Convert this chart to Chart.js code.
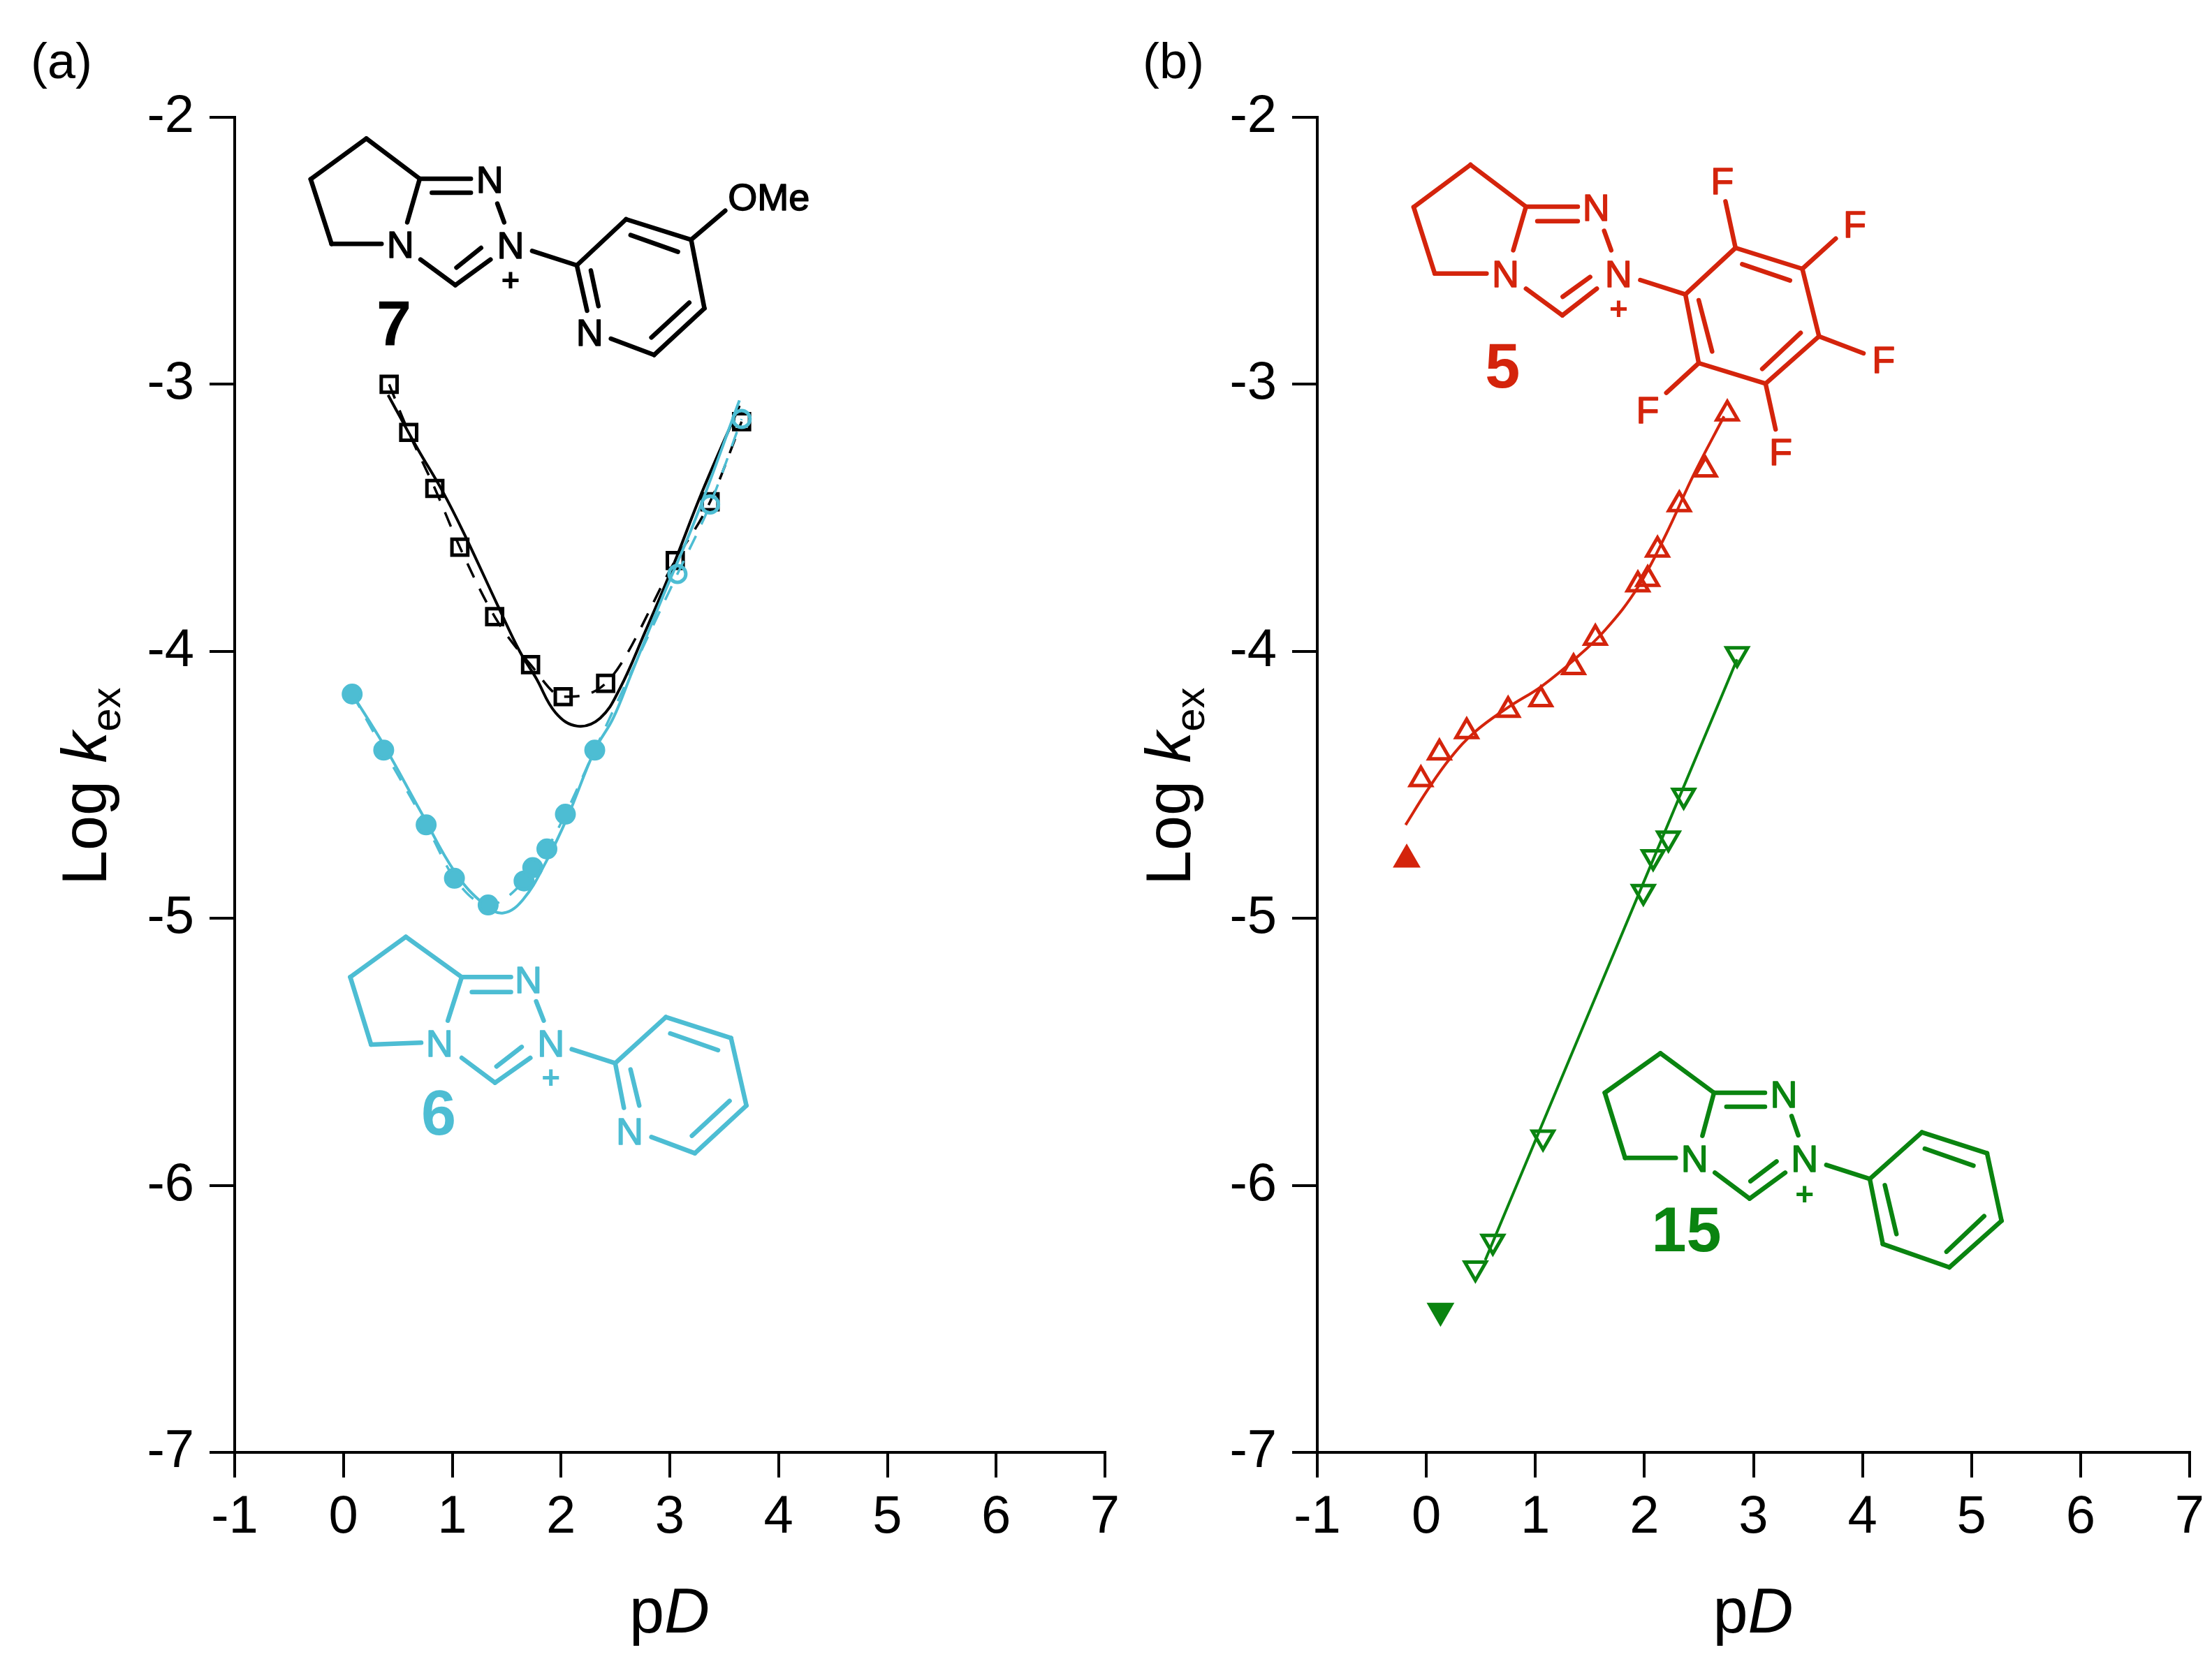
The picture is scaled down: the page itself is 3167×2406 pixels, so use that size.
<!DOCTYPE html>
<html>
<head>
<meta charset="utf-8">
<title>Log kex versus pD</title>
<script src="https://cdn.jsdelivr.net/npm/chart.js@4"></script>
<style>
  html, body { margin: 0; padding: 0; background: #fff; overflow: hidden; }
  canvas { position: absolute; top: 0; }
  #panelA { left: 0; }
  #panelB { left: 1620px; }
</style>
</head>
<body>
<canvas id="panelA"></canvas>
<canvas id="panelB"></canvas>
<script>
// tick labels
var xTickValues = [-1, 0, 1, 2, 3, 4, 5, 6, 7];
var yTickValues = [-2, -3, -4, -5, -6, -7];

// compound 7 (open squares, solid fit)
var pD7 = [0.42, 0.60, 0.84, 1.07, 1.39, 1.72, 2.02, 2.41, 3.05, 3.37, 3.66];
var logK7 = [-3.00, -3.18, -3.39, -3.61, -3.87, -4.05, -4.17, -4.12, -3.66, -3.44, -3.14];
var fitPD7 = [0.41, 0.68, 0.91, 1.11, 1.42, 1.62, 1.77, 1.95, 2.15, 2.36, 2.54, 2.77, 3.01, 3.30, 3.64];
var fitLogK7 = [-3.04, -3.24, -3.40, -3.56, -3.83, -4.00, -4.10, -4.23, -4.28, -4.25, -4.14, -3.93, -3.70, -3.40, -3.08];

// compound 6 (filled circles, then open circles at high pD)
var pD6 = [0.08, 0.37, 0.76, 1.02, 1.33, 1.66, 1.74, 1.87, 2.04, 2.31];
var logK6 = [-4.16, -4.37, -4.65, -4.85, -4.95, -4.86, -4.81, -4.74, -4.61, -4.37];
var pD6Open = [3.07, 3.37, 3.66];
var logK6Open = [-3.71, -3.45, -3.13];
var fitPD6 = [0.08, 0.37, 0.71, 1.03, 1.30, 1.47, 1.65, 1.86, 2.06, 2.31, 2.48, 2.65, 2.92, 3.24, 3.64];
var fitLogK6 = [-4.16, -4.35, -4.60, -4.83, -4.95, -4.98, -4.93, -4.79, -4.62, -4.37, -4.25, -4.08, -3.81, -3.50, -3.06];

// compound 5 (open triangles, one filled)
var pD5 = [-0.05, 0.12, 0.37, 0.75, 1.05, 1.35, 1.55, 1.94, 2.03, 2.12, 2.32, 2.56, 2.76];
var logK5 = [-4.48, -4.38, -4.30, -4.22, -4.18, -4.06, -3.95, -3.75, -3.73, -3.62, -3.45, -3.32, -3.11];
var pD5Filled = [-0.18];
var logK5Filled = [-4.78];
var fitPD5 = [-0.19, 0.01, 0.22, 0.45, 0.75, 1.06, 1.36, 1.64, 1.94, 2.20, 2.45, 2.73];
var fitLogK5 = [-4.65, -4.52, -4.40, -4.30, -4.21, -4.13, -4.03, -3.92, -3.76, -3.56, -3.34, -3.12];

// compound 15 (open inverted triangles, one filled)
var pD15 = [0.45, 0.61, 1.07, 1.99, 2.08, 2.22, 2.36, 2.85];
var logK15 = [-6.31, -6.21, -5.82, -4.90, -4.77, -4.70, -4.54, -4.01];
var pD15Filled = [0.13];
var logK15Filled = [-6.47];
var fitPD15 = [0.54, 2.85];
var fitLogK15 = [-6.28, -4.03];

var BLACK = '#000000';
var CYAN = '#4dbdd3';
var RED = '#d4240c';
var GREEN = '#0a8410';
var FONT = '"Liberation Sans", Arial, sans-serif';

function points(xs, ys) {
  return xs.map(function (x, i) { return { x: x, y: ys[i] }; });
}

function fitLine(xs, ys, color) {
  return {
    data: points(xs, ys), showLine: true, borderColor: color, borderWidth: 4,
    pointRadius: 0, tension: 0.4, fill: false
  };
}

function dashedLine(xs, ys, color) {
  return {
    data: points(xs, ys), showLine: true, borderColor: color, borderWidth: 3.5,
    borderDash: [22, 18], pointRadius: 0, cubicInterpolationMode: 'monotone', fill: false
  };
}

function markers(xs, ys, color, style, radius, filled, rotation) {
  return {
    data: points(xs, ys), showLine: false, pointStyle: style, pointRadius: radius,
    pointBorderColor: color, pointBorderWidth: 5, pointRotation: rotation || 0,
    pointBackgroundColor: filled ? color : 'transparent'
  };
}

// bicyclic cation drawings: crop units, origin and stretch turn them into page pixels
var structures = [
  {
    ox: 350, oy: 150, sx: 1 / 1.845, sy: 1 / 3, color: BLACK, panel: 0, label: '7', labelAt: [395, 935],
    bonds: [[322,145,175,320],[175,320,230,598],[230,598,362,598],[322,145,463,318],[463,318,598,318],[495,378,598,378],
      [463,318,430,505],[668,425,686,505],[465,665,557,775],[557,775,650,665],[560,700,625,615],[760,628,878,690],
      [878,690,1008,492],[1008,492,1180,580],[1020,560,1145,632],[1180,580,1215,875],[1215,875,1082,1075],[1175,850,1075,1000],
      [1082,1075,968,1005],[878,690,905,885],[915,712,935,865],[1180,580,1270,455]],
    atoms: [['N',648,322],['N',412,600],['N',703,603],['N',912,978],['OMe',1385,395]],
    plus: [703,752]
  },
  {
    ox: 460, oy: 1310, sx: 1 / 2.412, sy: 1 / 3, color: CYAN, panel: 0, label: '6', labelAt: [405, 850],
    bonds: [[292,95,100,268],[100,268,172,558],[172,558,345,550],[292,95,485,268],[485,268,655,268],[520,332,655,332],
      [485,268,437,455],[742,372,768,455],[485,615,600,722],[600,722,722,615],[605,652,692,568],[865,578,1015,638],
      [1015,638,1190,440],[1190,440,1415,530],[1205,510,1370,582],[1415,530,1468,820],[1468,820,1290,1025],[1410,800,1280,950],
      [1290,1025,1140,955],[1015,638,1045,830],[1068,665,1098,820]],
    atoms: [['N',715,278],['N',408,552],['N',793,552],['N',1065,930]],
    plus: [793,700]
  },
  {
    ox: 1980, oy: 200, sx: 1 / 2.09, sy: 1 / 3, color: RED, panel: 1, label: '5', labelAt: [358, 970],
    bonds: [[262,108,92,290],[92,290,155,575],[155,575,310,575],[262,108,428,288],[428,288,583,288],[462,350,583,350],
      [428,288,390,475],[662,392,683,475],[428,640,537,755],[537,755,640,640],[538,675,620,590],[770,603,905,665],
      [905,665,1055,465],[1055,465,1255,555],[1075,535,1218,605],[1255,555,1305,845],[1305,845,1145,1048],[1250,830,1135,985],
      [1145,1048,945,960],[945,960,905,665],[945,690,985,910],
      [1055,465,1025,265],[1255,555,1355,425],[1305,845,1438,918],[1145,1048,1175,1245],[945,960,848,1088]],
    atoms: [['N',638,290],['N',367,575],['N',705,575],['F',1015,178],['F',1412,362],['F',1498,945],['F',1190,1342],['F',792,1160]],
    plus: [705,727]
  },
  {
    ox: 2250, oy: 1470, sx: 1 / 2.412, sy: 1 / 3, color: GREEN, panel: 1, label: '15', labelAt: [397, 870],
    bonds: [[307,115,115,285],[115,285,185,565],[185,565,360,565],[307,115,492,285],[492,285,668,285],[535,345,668,345],
      [492,285,452,470],[760,385,783,468],[495,628,615,740],[615,740,738,628],[618,665,708,580],[880,595,1030,655],
      [1030,655,1210,455],[1210,455,1435,545],[1220,525,1388,598],[1435,545,1485,835],[1485,835,1305,1035],[1425,815,1295,968],
      [1305,1035,1075,935],[1075,935,1030,655],[1082,682,1122,892]],
    atoms: [['N',733,290],['N',425,568],['N',805,567]],
    plus: [805,720]
  }
];

function drawStructure(ctx, s) {
  function px(x) { return s.ox + x * s.sx; }
  function py(y) { return s.oy + y * s.sy; }
  ctx.strokeStyle = s.color;
  ctx.fillStyle = s.color;
  ctx.lineWidth = 6.5;
  ctx.lineCap = 'round';
  ctx.lineJoin = 'round';
  s.bonds.forEach(function (b) {
    ctx.beginPath();
    ctx.moveTo(px(b[0]), py(b[1]));
    ctx.lineTo(px(b[2]), py(b[3]));
    ctx.stroke();
  });
  ctx.textAlign = 'center';
  ctx.textBaseline = 'alphabetic';
  ctx.font = '54px ' + FONT;
  ctx.lineWidth = 1.5;
  s.atoms.forEach(function (a) {
    ctx.fillText(a[0], px(a[1]), py(a[2]) + 19);
    ctx.strokeText(a[0], px(a[1]), py(a[2]) + 19);
  });
  ctx.font = 'bold 46px ' + FONT;
  ctx.fillText('+', px(s.plus[0]), py(s.plus[1]) + 16);
  ctx.font = 'bold 90px ' + FONT;
  ctx.fillText(s.label, px(s.labelAt[0]), py(s.labelAt[1]) + 32);
}

// mixed italic text, left to right from (x, y)
function drawRuns(ctx, runs, x, y) {
  ctx.textAlign = 'left';
  ctx.textBaseline = 'alphabetic';
  runs.forEach(function (r) {
    ctx.font = r.font;
    ctx.fillText(r.text, x, y + (r.dy || 0));
    x += ctx.measureText(r.text).width;
  });
}

function panelText(panelIndex, offsetLeft, letter, letterX, yTitleBaseline) {
  return {
    id: 'panelText' + panelIndex,
    afterDraw: function (chart) {
      var ctx = chart.ctx;
      var area = chart.chartArea;
      ctx.save();
      ctx.fillStyle = BLACK;
      // panel letter
      ctx.font = '72px ' + FONT;
      ctx.textAlign = 'left';
      ctx.textBaseline = 'alphabetic';
      ctx.fillText(letter, letterX - offsetLeft, 112);
      // x axis title
      var mid = (area.left + area.right) / 2;
      drawRuns(ctx, [
        { text: 'p', font: '90px ' + FONT },
        { text: 'D', font: 'italic 90px ' + FONT }
      ], mid - 58, 2338);
      // y axis title
      ctx.save();
      ctx.translate(yTitleBaseline - offsetLeft, 1268);
      ctx.rotate(-Math.PI / 2);
      drawRuns(ctx, [
        { text: 'Log ', font: '90px ' + FONT },
        { text: 'k', font: 'italic 90px ' + FONT },
        { text: 'ex', font: '60px ' + FONT, dy: 20 }
      ], 0, 0);
      ctx.restore();
      // structures
      ctx.translate(-offsetLeft, 0);
      structures.forEach(function (s) {
        if (s.panel === panelIndex) drawStructure(ctx, s);
      });
      ctx.restore();
    }
  };
}

function makeAxis(position, min, max, tickValues, padding, fixedSize) {
  return {
    type: 'linear',
    position: position,
    min: min,
    max: max,
    afterBuildTicks: function (scale) {
      scale.ticks = tickValues.map(function (v) { return { value: v }; });
    },
    afterFit: function (scale) {
      // fixed plot rectangle: no extra room for the end labels
      scale.paddingLeft = 0;
      scale.paddingRight = 0;
      scale.paddingTop = 0;
      scale.paddingBottom = 0;
      if (position === 'left') scale.width = fixedSize; else scale.height = fixedSize;
    },
    border: { color: BLACK, width: 4 },
    grid: { drawOnChartArea: false, color: BLACK, lineWidth: 4, tickLength: 36 },
    ticks: {
      color: BLACK,
      autoSkip: false,
      maxRotation: 0,
      padding: padding,
      font: { family: '"Liberation Sans"', size: 76 },
      callback: function (v) { return String(v); }
    }
  };
}

function makeChart(id, width, axisLeft, axisRight, datasets, plugin) {
  var canvas = document.getElementById(id);
  canvas.width = width;
  canvas.height = 2406;
  canvas.style.width = width + 'px';
  canvas.style.height = '2406px';
  return new Chart(canvas, {
    type: 'scatter',
    data: { datasets: datasets },
    options: {
      responsive: false,
      animation: false,
      devicePixelRatio: 1,
      layout: { padding: { left: 0, right: width - axisRight, top: 168, bottom: 166 } },
      scales: {
        x: makeAxis('bottom', -1, 7, xTickValues, 12, 160),
        y: makeAxis('left', -7, -2, yTickValues, 22, axisLeft)
      },
      plugins: { legend: { display: false }, tooltip: { enabled: false } }
    },
    plugins: [plugin]
  });
}

window.onload = function () {
  makeChart('panelA', 1620, 336, 1582, [
    markers(pD6Open, logK6Open, CYAN, 'circle', 12, false),
    markers(pD6, logK6, CYAN, 'circle', 12.5, true),
    fitLine(fitPD6, fitLogK6, CYAN),
    dashedLine(pD6.concat(pD6Open), logK6.concat(logK6Open), CYAN),
    markers(pD7, logK7, BLACK, 'rect', 16, false),
    fitLine(fitPD7, fitLogK7, BLACK),
    dashedLine(pD7, logK7, BLACK)
  ], panelText(0, 0, '(a)', 44, 152));

  makeChart('panelB', 1547, 1886 - 1620, 3135 - 1620, [
    markers(pD5, logK5, RED, 'triangle', 17.5, false),
    markers(pD5Filled, logK5Filled, RED, 'triangle', 18, true),
    fitLine(fitPD5, fitLogK5, RED),
    markers(pD15, logK15, GREEN, 'triangle', 17.5, false, 180),
    markers(pD15Filled, logK15Filled, GREEN, 'triangle', 18, true, 180),
    fitLine(fitPD15, fitLogK15, GREEN)
  ], panelText(1, 1620, '(b)', 1636, 1704));
};
</script>
</body>
</html>
